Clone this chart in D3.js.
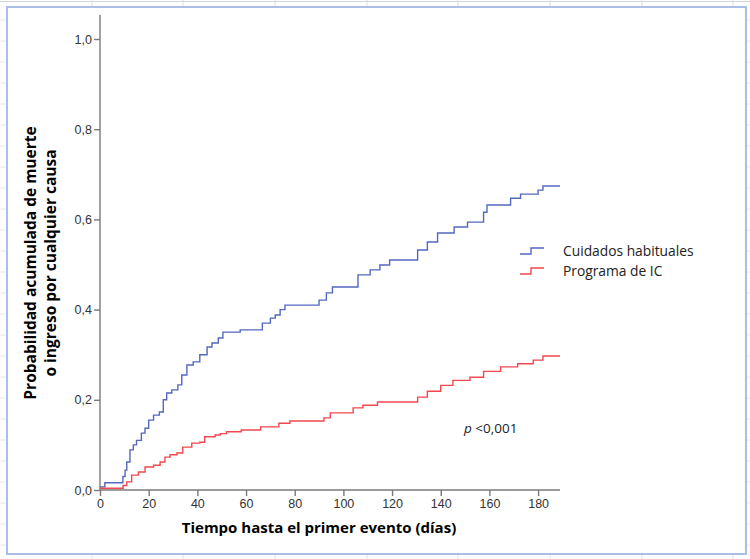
<!DOCTYPE html>
<html>
<head>
<meta charset="utf-8">
<script src="https://cdn.jsdelivr.net/npm/d3@7"></script>
<style>
  body { margin: 0; background: #fff; }
  svg { display: block; }
</style>
</head>
<body>
<div id="chart"></div>
<script>
// step points: [day, cumulative probability after the step]
const usualCareSteps = [
  [0, 0.007], [2, 0.016], [9.4, 0.03], [10.3, 0.044], [11, 0.062], [12.3, 0.089],
  [13.7, 0.1], [15, 0.11], [17, 0.126], [18.5, 0.137], [20, 0.155], [22, 0.166],
  [24.4, 0.173], [26, 0.2], [27.4, 0.215], [29.5, 0.222], [32, 0.233], [33.6, 0.255],
  [35.7, 0.277], [38.3, 0.284], [41, 0.3], [44, 0.317], [46, 0.326], [48.6, 0.337],
  [50.5, 0.35], [57.6, 0.355], [66.7, 0.37], [70, 0.381], [72, 0.388], [74, 0.4],
  [76, 0.41], [90, 0.421], [93, 0.437], [95.5, 0.45], [106, 0.477], [111, 0.488],
  [115, 0.499], [119, 0.51], [130.5, 0.532], [134.5, 0.55], [138.7, 0.57],
  [145.5, 0.583], [151, 0.594], [157.6, 0.616], [159, 0.632], [168.7, 0.647],
  [172.8, 0.656], [180, 0.665], [182, 0.674], [189, 0.674]
];
const programSteps = [
  [0, 0.004], [9.5, 0.01], [11, 0.018], [13, 0.033], [15.8, 0.04], [18.5, 0.051],
  [22, 0.055], [24.7, 0.062], [26.7, 0.073], [28.8, 0.078], [31.6, 0.082], [34, 0.095],
  [37.7, 0.104], [41, 0.106], [43, 0.118], [47.3, 0.122], [49.4, 0.125], [52, 0.129],
  [58, 0.133], [66, 0.14], [73.5, 0.148], [78, 0.153], [92, 0.16], [94.6, 0.171],
  [104, 0.182], [108, 0.188], [114, 0.195], [130.5, 0.206], [134.5, 0.219], [140, 0.232],
  [145, 0.243], [152, 0.25], [157.6, 0.263], [164.6, 0.273], [171.6, 0.28], [178, 0.288],
  [182, 0.297], [189, 0.297]
];
const seriesNames = ["Cuidados habituales", "Programa de IC"];
const seriesColors = ["#5468c0", "#f0484e"];
const xTicks = [0, 20, 40, 60, 80, 100, 120, 140, 160, 180];
const yTicks = [0, 0.2, 0.4, 0.6, 0.8, 1.0];

const width = 750, height = 559;
const svg = d3.select("#chart").append("svg")
  .attr("width", width).attr("height", height);

// faint spreadsheet cells behind the chart frame
const cellCols = [92, 183, 275, 367, 458, 550, 642, 733];
svg.append("line").attr("x1", 0).attr("x2", width).attr("y1", 1.5).attr("y2", 1.5)
  .attr("stroke", "#d4d4d4");
svg.selectAll(".cellcol").data(cellCols).enter().append("line")
  .attr("x1", d => d).attr("x2", d => d).attr("y1", 0).attr("y2", height)
  .attr("stroke", "#dedede");
svg.selectAll(".cellrow").data(d3.range(20, height, 21)).enter().append("line")
  .attr("x1", 0).attr("x2", width).attr("y1", d => d).attr("y2", d => d)
  .attr("stroke", "#e6e6e6");

svg.append("rect")
  .attr("x", 7).attr("y", 7).attr("width", 739).attr("height", 547)
  .attr("fill", "#fff").attr("stroke", "#a9bfe6").attr("stroke-width", 2);

const x = d3.scaleLinear().domain([0, 189]).range([100, 560]);
const y = d3.scaleLinear().domain([0, 1]).range([490, 39]);

const locale = d3.formatLocale({ decimal: ",", thousands: ".", grouping: [3], currency: ["", "€"] });
const fmt = locale.format(".1f");

// y axis
const yAxis = svg.append("g")
  .attr("transform", "translate(100,0)")
  .call(d3.axisLeft(y).tickValues(yTicks).tickFormat(fmt).tickSize(6).tickPadding(2));
yAxis.select(".domain").attr("d", `M0,${y(0)}V15`);

// x axis
const xAxis = svg.append("g")
  .attr("transform", `translate(0,${y(0)})`)
  .call(d3.axisBottom(x).tickValues(xTicks).tickSize(6).tickPadding(3));
xAxis.select(".domain").attr("d", `M100,0H560`);

svg.selectAll(".tick line, .domain").attr("stroke", "#7a7a7a").attr("stroke-width", 1.4);
svg.selectAll(".tick text")
  .attr("fill", "#333").style("font-family", "Liberation Sans, Arial, sans-serif")
  .style("font-size", "12.5px");

// curves
const line = d3.line().x(d => x(d[0])).y(d => y(d[1])).curve(d3.curveStepAfter);
[usualCareSteps, programSteps].forEach((s, i) => {
  svg.append("path")
    .datum(s)
    .attr("fill", "none")
    .attr("stroke", seriesColors[i])
    .attr("stroke-width", 1.4)
    .attr("d", line);
});

// axis titles
svg.append("text")
  .attr("x", 319).attr("y", 533)
  .attr("text-anchor", "middle")
  .style("font-family", "Open Sans, sans-serif")
  .style("font-weight", "bold").style("font-size", "15px")
  .text("Tiempo hasta el primer evento (días)");

const yTitle = svg.append("text")
  .attr("transform", "translate(36,263) rotate(-90)")
  .attr("text-anchor", "middle")
  .style("font-family", "Open Sans, sans-serif")
  .style("font-weight", "bold").style("font-size", "15.5px");
yTitle.append("tspan").attr("x", 0).attr("y", 0).text("Probabilidad acumulada de muerte");
yTitle.append("tspan").attr("x", 0).attr("y", 20).text("o ingreso por cualquier causa");

// legend
const legend = svg.append("g");
seriesNames.forEach((name, i) => {
  const ly = 251 + i * 20;
  legend.append("path")
    .attr("d", `M520,${ly + 3}H531V${ly - 3}H544`)
    .attr("fill", "none").attr("stroke", seriesColors[i]).attr("stroke-width", 1.4);
  legend.append("text")
    .attr("x", 563).attr("y", ly + 5)
    .style("font-family", "Open Sans, sans-serif").style("font-size", "13.8px")
    .attr("fill", "#222")
    .text(name);
});

// p value
const pText = svg.append("text")
  .attr("x", 464).attr("y", 433)
  .style("font-family", "Open Sans, sans-serif").style("font-size", "13.5px")
  .attr("fill", "#222");
pText.append("tspan").style("font-style", "italic").text("p");
pText.append("tspan").text(" <0,001");
</script>
</body>
</html>
